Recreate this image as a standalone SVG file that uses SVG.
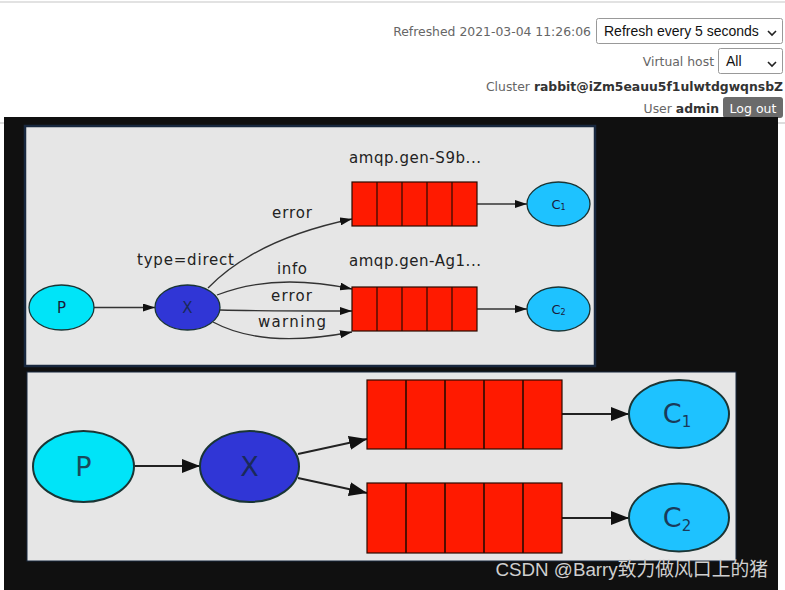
<svg xmlns="http://www.w3.org/2000/svg" width="785" height="590" viewBox="0 0 785 590">
<defs>
<marker id="ah" viewBox="0 0 12 8" refX="12" refY="4" markerWidth="12" markerHeight="8" markerUnits="userSpaceOnUse" orient="auto"><path d="M0,0 L12,4 L0,8 Z" fill="#111"/></marker>
<marker id="ahb" viewBox="0 0 18 14" refX="18" refY="7" markerWidth="18" markerHeight="14" markerUnits="userSpaceOnUse" orient="auto"><path d="M0,0 L18,7 L0,14 Z" fill="#111"/></marker>
<style>
.hdr{font-family:"DejaVu Sans",Verdana,sans-serif;font-size:12.4px;fill:#666}
.hb{font-weight:bold;fill:#333}
.sel{fill:#fff;stroke:#999;stroke-width:1}
.selt{font-family:"Liberation Sans",Arial,sans-serif;font-size:14px;fill:#111}
.lbl{font-family:"DejaVu Sans",Verdana,sans-serif;font-size:15px;fill:#222}
.nt{font-family:"DejaVu Sans",Verdana,sans-serif;fill:#1a1a3a;text-anchor:middle}
.ntb{font-family:"DejaVu Sans",Verdana,sans-serif;fill:#1a2a5a;text-anchor:middle}
.q{fill:#ff1a00;stroke:#2a0a00;stroke-width:1.2}
.e{fill:none;stroke:#333;stroke-width:1.3}
.eb{fill:none;stroke:#222;stroke-width:2}
.nodeS{stroke:#1a3535;stroke-width:1.3}
.nodeB{stroke:#1a3535;stroke-width:2}
</style>
</defs>
<rect width="785" height="590" fill="#fff"/>
<line x1="0" y1="2" x2="785" y2="2" stroke="#e2e2e2" stroke-width="2"/>
<line x1="0" y1="123" x2="785" y2="123" stroke="#bbb" stroke-width="1"/>

<!-- header -->
<g id="header">
<text class="hdr" x="591" y="36" text-anchor="end">Refreshed 2021-03-04 11:26:06</text>
<rect class="sel" x="596.5" y="18.5" width="186" height="25" rx="2"/>
<text class="selt" x="604" y="36">Refresh every 5 seconds</text>
<path d="M768,31 L772,35 L776,31" fill="none" stroke="#222" stroke-width="1.6"/>
<text class="hdr" x="714" y="66" text-anchor="end">Virtual host</text>
<rect class="sel" x="718.5" y="48.5" width="64" height="25" rx="2"/>
<text class="selt" x="726" y="66">All</text>
<path d="M768,62 L772,66 L776,62" fill="none" stroke="#222" stroke-width="1.6"/>
<text class="hdr" x="783" y="91" text-anchor="end">Cluster <tspan class="hb">rabbit@iZm5eauu5f1ulwtdgwqnsbZ</tspan></text>
<text class="hdr" x="719" y="113" text-anchor="end">User <tspan class="hb">admin</tspan></text>
<rect x="723" y="97" width="60" height="21" rx="3" fill="#6b6b6b"/>
<text x="753" y="113" text-anchor="middle" style="font-family:'DejaVu Sans',Verdana,sans-serif;font-size:12.5px;fill:#fff">Log out</text>
</g>

<!-- dark overlay -->
<rect x="4" y="117" width="774" height="473" fill="#101010"/>
<rect x="25" y="126" width="570" height="240" fill="#e6e6e6" stroke="#18283f" stroke-width="2.5"/>
<rect x="27" y="372" width="709" height="189" fill="#e6e6e6" stroke="#18283f" stroke-width="1"/>

<!-- connectors -->
<g id="connectors">
<line class="e" x1="94" y1="307.5" x2="155" y2="307.5" marker-end="url(#ah)"/>
<path class="e" d="M208,288 C240,255 290,232 352,219" marker-end="url(#ah)"/>
<path class="e" d="M217,295 C255,280 300,278 352,289" marker-end="url(#ah)"/>
<path class="e" d="M220,310 C260,311 310,311 352,311" marker-end="url(#ah)"/>
<path class="e" d="M213,322 C250,342 300,342 352,332" marker-end="url(#ah)"/>
<line class="e" x1="477" y1="204" x2="527" y2="204" marker-end="url(#ah)"/>
<line class="e" x1="477" y1="309" x2="527" y2="309" marker-end="url(#ah)"/>
<text class="lbl" x="272" y="218" textLength="40">error</text>
<text class="lbl" x="137" y="265" textLength="97">type=direct</text>
<text class="lbl" x="277" y="274" textLength="30">info</text>
<text class="lbl" x="271" y="301" textLength="41">error</text>
<text class="lbl" x="258" y="327" textLength="68">warning</text>

<line class="eb" x1="134" y1="466" x2="200" y2="466" marker-end="url(#ahb)"/>
<line class="eb" x1="298" y1="454" x2="367" y2="439" marker-end="url(#ahb)"/>
<line class="eb" x1="298" y1="478" x2="367" y2="493" marker-end="url(#ahb)"/>
<line class="eb" x1="562" y1="414" x2="629" y2="414" marker-end="url(#ahb)"/>
<line class="eb" x1="562" y1="518" x2="629" y2="518" marker-end="url(#ahb)"/>
</g>

<!-- top diagram nodes -->
<g id="p1"><ellipse class="nodeS" cx="61.5" cy="307.5" rx="32.5" ry="22.5" fill="#00e4f8"/><text class="nt" x="61.5" y="313" font-size="15">P</text></g>
<g id="x1"><ellipse class="nodeS" cx="187.5" cy="307.5" rx="32.5" ry="22.5" fill="#3036d6"/><text class="ntb" x="187.5" y="313" font-size="15">X</text></g>
<g id="q1">
<text class="lbl" x="349" y="163" textLength="132">amqp.gen-S9b...</text>
<rect class="q" x="352" y="182" width="125" height="44"/>
<path d="M377,182 V226 M402,182 V226 M427,182 V226 M452,182 V226" stroke="#2a0a00" stroke-width="1.2"/>
</g>
<g id="q2">
<text class="lbl" x="349" y="266" textLength="132">amqp.gen-Ag1...</text>
<rect class="q" x="352" y="287" width="125" height="44"/>
<path d="M377,287 V331 M402,287 V331 M427,287 V331 M452,287 V331" stroke="#2a0a00" stroke-width="1.2"/>
</g>
<g id="c1"><ellipse class="nodeS" cx="558.5" cy="204" rx="31.5" ry="22" fill="#1ec2ff"/><text class="nt" x="558.5" y="209" font-size="13">C<tspan font-size="8" dy="1">1</tspan></text></g>
<g id="c2"><ellipse class="nodeS" cx="558.5" cy="309" rx="31.5" ry="22" fill="#1ec2ff"/><text class="nt" x="558.5" y="314" font-size="13">C<tspan font-size="8" dy="1">2</tspan></text></g>

<!-- bottom diagram nodes -->
<g id="p2"><ellipse class="nodeB" cx="83.5" cy="466.5" rx="50.5" ry="35.5" fill="#00e4f8"/><text class="nt" x="83.5" y="476" font-size="27" style="fill:#1a4a5a">P</text></g>
<g id="x2"><ellipse class="nodeB" cx="249.5" cy="466.5" rx="49.5" ry="35.5" fill="#3036d6"/><text class="ntb" x="249.5" y="476" font-size="27">X</text></g>
<g id="q3">
<rect class="q" x="367" y="380" width="195" height="69" stroke-width="1.6"/>
<path d="M406,380 V449 M445,380 V449 M484,380 V449 M523,380 V449" stroke="#2a0a00" stroke-width="1.6"/>
</g>
<g id="q4">
<rect class="q" x="367" y="483" width="195" height="70" stroke-width="1.6"/>
<path d="M406,483 V553 M445,483 V553 M484,483 V553 M523,483 V553" stroke="#2a0a00" stroke-width="1.6"/>
</g>
<g id="c3"><ellipse class="nodeB" cx="679" cy="414" rx="50" ry="34" fill="#1ec2ff"/><text class="nt" x="677" y="423" font-size="27" style="fill:#1a3a5a">C<tspan font-size="15" dy="4">1</tspan></text></g>
<g id="c4"><ellipse class="nodeB" cx="679" cy="517.5" rx="50" ry="34" fill="#1ec2ff"/><text class="nt" x="677" y="527" font-size="27" style="fill:#1a3a5a">C<tspan font-size="15" dy="4">2</tspan></text></g>

<text x="768" y="576" text-anchor="end" style="font-family:'Liberation Sans','Noto Sans CJK SC',sans-serif;font-size:18.8px;fill:#cfcfcf">CSDN @Barry致力做风口上的猪</text>
</svg>
